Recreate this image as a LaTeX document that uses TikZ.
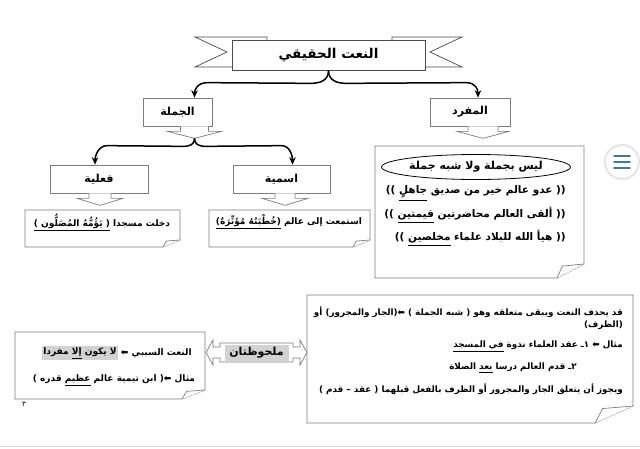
\documentclass[tikz,border=0pt]{standalone}
\usepackage{fontspec}
\newfontfamily\arabicfont[Script=Arabic]{DejaVu Sans}
\TeXXeTstate=1
\usetikzlibrary{arrows.meta,positioning,calc,shapes.geometric}
\definecolor{linegray}{RGB}{125,125,125}
\definecolor{markgray}{RGB}{210,210,210}
\definecolor{iconblue}{RGB}{62,122,168}

\newcommand{\ar}[1]{\beginR #1\endR}
\newcommand{\ulr}[1]{\underline{\beginR #1\endR}}
% box outline with a folded corner at bottom right
\newcommand{\notebox}[6]{%
  \draw[box] (#1,#2) -- (#3,#2) -- (#3,#4-#6) -- (#3-#5,#4) -- (#1,#4) -- cycle;
  \draw[box] (#3-#5,#4) -- (#3-0.8*#5,#4-0.85*#6) -- (#3,#4-#6);}
% arrow callout under a box
\newcommand{\downcall}[4]{%
  \draw[box] ($(#1.south)+(#2-#3,0)$) -- ++(0,5) -- ++(#3-#4,0)
    -- ($(#1.south)+(#2,12)$) -- ++(#4,-7) -- ++(#3-#4,0) -- ++(0,-5);}

\tikzset{
  box/.style={draw=linegray, fill=white, line width=0.7pt},
  ribbon/.style={draw=black!70, fill=white, line width=0.7pt},
  brace/.style={draw=black, line width=1.5pt, -{Stealth[length=7.5pt,width=6.5pt]}},
  headtxt/.style={font=\arabicfont\bfseries\fontsize{13.5}{15}\selectfont},
  labeltxt/.style={font=\arabicfont\bfseries\fontsize{11}{13}\selectfont},
  bodytxt/.style={font=\arabicfont\bfseries\fontsize{9}{11}\selectfont, inner sep=1pt},
  notetxt/.style={font=\arabicfont\bfseries\fontsize{8.8}{10.5}\selectfont, inner sep=1pt},
  bigtxt/.style={font=\arabicfont\bfseries\fontsize{10.5}{12}\selectfont, inner sep=1pt},
}

\begin{document}
\begin{tikzpicture}[x=1pt,y=-1pt]
    \useasboundingbox (0,0) rectangle (640,448);
    \fill[white] (0,0) rectangle (640,448);

    % title ribbon
    \draw[ribbon] (267,40) -- (267,37) -- (195,37) -- (227,52) -- (195,67) -- (232,67);
    \draw[ribbon] (392,40) -- (392,37) -- (462,37) -- (430,52) -- (462,67) -- (425,67);
    \node[ribbon, headtxt, minimum width=193, minimum height=30] (title) at (328.5,55) {\ar{النعت الحقيقي}};

    % first level
    \node[box, labeltxt, minimum width=69, minimum height=28] (jumla) at (177.5,112) {\ar{الجملة}};
    \node[box, labeltxt, minimum width=80, minimum height=28] (mufrad) at (470,112) {\ar{المفرد}};
    \downcall{jumla}{17}{14}{27}
    \downcall{mufrad}{13}{15}{26}
    \coordinate (jumlatip) at ($(jumla.south)+(17,12)$);

    \draw[brace] (title.south) .. controls +(0,10) and +(10,0) .. ++(-18,13)
        -- ($(jumla.north)+(30,-15)$) .. controls +(-10,0) and +(0,-8) .. ($(jumla.north)+(17,0)$);
    \draw[brace] (title.south) .. controls +(0,10) and +(-10,0) .. ++(18,13)
        -- ($(mufrad.north)+(-4,-15)$) .. controls +(10,0) and +(0,-8) .. ($(mufrad.north)+(8,0)$);

    % second level
    \node[box, labeltxt, minimum width=98, minimum height=28] (fiil) at (99,179) {\ar{فعلية}};
    \node[box, labeltxt, minimum width=97, minimum height=28] (ismiya) at (281.5,179) {\ar{اسمية}};
    \downcall{fiil}{1}{11}{23}
    \downcall{ismiya}{3.5}{10}{23}

    \draw[brace] (jumlatip) .. controls +(0,6) and +(8,0) .. ++(-12,8)
        -- ($(fiil.north)+(8,-19)$) .. controls +(-9,0) and +(0,-8) .. ($(fiil.north)+(-4,0)$);
    \draw[brace] (jumlatip) .. controls +(0,6) and +(-8,0) .. ++(12,8)
        -- ($(ismiya.north)+(0,-19)$) .. controls +(9,0) and +(0,-8) .. ($(ismiya.north)+(11,0)$);

    % examples of the sentence
    \notebox{25}{210}{180}{247}{17}{7}
    \notebox{209}{210}{370}{247}{17}{7}
    \node[bodytxt] (fiilex) at (102,222) {\ar{دخلت مسجدا \ulr{( يَؤُمُّهُ المُصَلُّون )}}};
    \node[bodytxt] (ismiyaex) at (289,222) {\ar{استمعت إلى عالم \ulr{(خُطْبَتُهُ مُؤَثِّرَةٌ)}}};

    % examples of the single word
    \notebox{375}{146}{584}{278}{27}{14}
    \node[draw=black, line width=0.8pt, ellipse, minimum width=183, minimum height=25, inner sep=0pt, labeltxt] (notsent) at (476,167) {\ar{ليس بجملة ولا شبه جملة}};
    \node[bigtxt, anchor=east] (mufradexa) at (567,193) {\ar{(( عدو عالم خير من صديق \ulr{جاهلٍ} ))}};
    \node[bigtxt, anchor=east] (mufradexb) at (567,215) {\ar{(( ألقى العالم محاضرتين \ulr{قيمتين} ))}};
    \node[bigtxt, anchor=east] (mufradexc) at (567,238) {\ar{(( هيأ الله للبلاد علماء \ulr{مخلصين} ))}};

    % notes
    \draw[box] (220,343) -- (293,343) -- (293,347) -- (300,347) -- (300,340) -- (307,352.5) -- (300,365)
        -- (300,358) -- (293,358) -- (293,362) -- (220,362) -- (220,358) -- (213,358) -- (213,365)
        -- (206,352.5) -- (213,340) -- (213,347) -- (220,347) -- cycle;
    \node[fill=markgray, labeltxt, minimum width=64, minimum height=16, inner sep=0pt] (notes) at (256.5,352.5) {\ar{ملحوظتان}};

    \notebox{15}{332}{205}{399}{23}{9}
    \node[bodytxt, fill=markgray] (sababimark) at (80,353) {\ar{لا يكون \ulr{إلا} مفردا}};
    \node[bodytxt, right=2pt of sababimark] (sababi) {\ar{النعت السببي ⬅}};
    \node[bodytxt] (sababiex) at (114,380) {\ar{مثال ⬅( ابن تيمية عالم \ulr{عظيم} قدره )}};
    \node[font=\arabicfont\fontsize{7}{8}\selectfont, inner sep=1pt] (pagenum) at (24,404) {٣};

    \notebox{307}{295}{633}{423}{38}{17}
    \node[notetxt, anchor=east] (hadhfa) at (624,312) {\ar{قد يحذف النعت ويبقى متعلقه وهو ( شبه الجملة ) ⬅(الجار والمجرور) أو}};
    \node[notetxt, anchor=east] (hadhfb) at (624,325) {\ar{(الظرف)}};
    \node[notetxt, anchor=east] (hadhfc) at (624,346) {\ar{مثال ⬅ ١ـ عقد العلماء ندوة \ulr{في المسجد}}};
    \node[notetxt, anchor=east] (hadhfd) at (578,368) {\ar{٢ـ قدم العالم درسا \ulr{بعد} الصلاة}};
    \node[notetxt, anchor=east] (hadhfe) at (624,389) {\ar{ويجوز أن يتعلق الجار والمجرور أو الظرف بالفعل قبلهما ( عقد – قدم )}};

    % side icon
    \draw[black!10, line width=2pt, fill=white] (622,162) circle (17);
    \foreach \yy in {156,162,168}
        \draw[iconblue, line width=1.8pt, line cap=round] (614,\yy) -- (630,\yy);
    \draw[black!15] (0,446) -- (640,446);
    \end{tikzpicture}
\end{document}
